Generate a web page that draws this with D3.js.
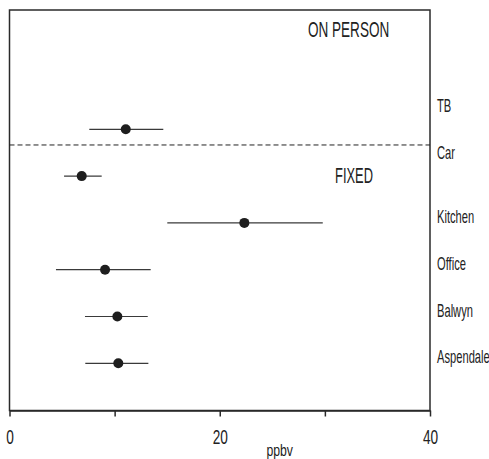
<!DOCTYPE html>
<html>
<head>
<meta charset="utf-8">
<script src="https://cdn.jsdelivr.net/npm/d3@7"></script>
<style>
  html, body { margin: 0; padding: 0; background: #fff; }
  svg { display: block; }
  text { font-family: "Liberation Sans", Arial, sans-serif; fill: #222; }
</style>
</head>
<body>
<svg id="chart" width="489" height="459"></svg>
<script>
// ---- data ----
const sites = ["TB", "Car", "Kitchen", "Office", "Balwyn", "Aspendale"];
const groups = ["on person", "on person", "fixed", "fixed", "fixed", "fixed"];
const means = [11.06, 6.87, 22.34, 9.09, 10.26, 10.35];
const lower = [7.59, 5.19, 15.01, 4.42, 7.18, 7.21];
const upper = [14.63, 8.77, 29.80, 13.43, 13.15, 13.21];
const xTicks = [0, 10, 20, 30, 40];
const xTickLabels = ["0", "", "20", "", "40"];
const groupTitles = ["ON PERSON", "FIXED"];
const xTitle = "ppbv";
const dividerRow = 0.335;

// ---- layout ----
const W = 489, H = 459;
const plot = { left: 9.5, right: 430, top: 10, bottom: 410.5 };
const svg = d3.select("#chart");

const x = d3.scaleLinear().domain([0, 40]).range([plot.left, plot.right]);
const y = d3.scaleLinear().domain([0, sites.length - 1]).range([129.3, 363.3]);

const SX = 0.62; // horizontal condensing of type

// frame
svg.append("rect")
  .attr("x", plot.left).attr("y", plot.top)
  .attr("width", plot.right - plot.left).attr("height", plot.bottom - plot.top)
  .attr("fill", "none").attr("stroke", "#2a2a2a").attr("stroke-width", 1.5);

// x axis ticks
const axis = d3.axisBottom(x).tickValues(xTicks)
  .tickFormat((d, i) => xTickLabels[i]).tickSize(6).tickSizeOuter(0);
const gx = svg.append("g").attr("transform", `translate(0,${plot.bottom})`).call(axis);
gx.select(".domain").attr("stroke", "#2a2a2a").attr("stroke-width", 1.5);
gx.selectAll(".tick line").attr("stroke", "#2a2a2a").attr("stroke-width", 1.5);
gx.selectAll(".tick text").remove();
gx.selectAll(".tick").each(function(d, i) {
  if (!xTickLabels[i]) return;
  d3.select(this).append("text")
    .attr("transform", `translate(0,${444 - plot.bottom}) scale(0.7,1)`)
    .attr("text-anchor", "middle")
    .attr("font-size", 19.5)
    .attr("fill", "#222")
    .attr("font-family", '"Liberation Sans", Arial, sans-serif')
    .text(xTickLabels[i]);
});

// x title
svg.append("text")
  .attr("transform", `translate(${x(25.7)},455.5) scale(0.72,1)`)
  .attr("text-anchor", "middle").attr("font-size", 17)
  .text(xTitle);

// divider
svg.append("line")
  .attr("x1", plot.left).attr("x2", plot.right)
  .attr("y1", y(dividerRow)).attr("y2", y(dividerRow))
  .attr("stroke", "#222").attr("stroke-width", 1).attr("stroke-dasharray", "5,3");

// group titles
svg.append("text")
  .attr("transform", `translate(308,37.3) scale(0.63,1)`)
  .attr("font-size", 21.5).text(groupTitles[0]);
svg.append("text")
  .attr("transform", `translate(335,182.7) scale(0.6,1)`)
  .attr("font-size", 21.5).text(groupTitles[1]);

// error bars and points
const rows = sites.map((s, i) => ({ site: s, group: groups[i], m: means[i], lo: lower[i], hi: upper[i], i }));
svg.append("g").selectAll("line").data(rows).join("line")
  .attr("x1", d => x(d.lo)).attr("x2", d => x(d.hi))
  .attr("y1", d => y(d.i)).attr("y2", d => y(d.i))
  .attr("stroke", "#3a3a3a").attr("stroke-width", 1.2);
svg.append("g").selectAll("circle").data(rows).join("circle")
  .attr("cx", d => x(d.m)).attr("cy", d => y(d.i)).attr("r", 5)
  .attr("fill", "#1e1e1e");

// site labels on right
svg.append("g").selectAll("text").data(rows).join("text")
  .attr("transform", d => `translate(437,${y(d.i) + (d.group === "on person" ? -17.5 : 0)}) scale(${SX},1)`)
  .attr("font-size", 18)
  .text(d => d.site);
</script>
</body>
</html>
